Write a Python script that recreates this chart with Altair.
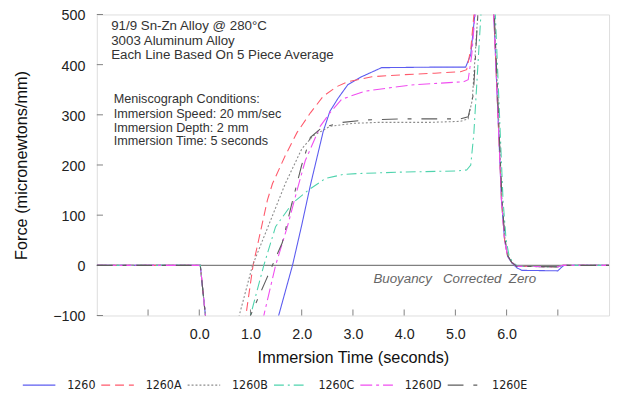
import altair as alt
import pandas as pd

FONT = "Liberation Sans, Arial, sans-serif"
NARROW = "DejaVu Sans Condensed, Liberation Sans Narrow, Liberation Sans, Arial, sans-serif"

SERIES = ["1260", "1260A", "1260B", "1260C", "1260D", "1260E"]
COLORS = ["#5c5cf0", "#ff5a6c", "#8c8c8c", "#4fd3ad", "#f04ef0", "#5e5e5e"]
DASHES = [[1, 0], [9, 5], [2, 2], [10, 4, 2, 4], [12, 4, 3, 4], [16, 10, 4, 10]]

# shared start: flat zero then sharp drop at immersion
LEAD_T = [-2.0, 0.0, 0.02, 0.12, 0.2]
LEAD_F = [0, 0, 0, -100, -200]

T_1260 = [1.4, 1.55, 1.82, 2.0, 2.17, 2.42, 2.55, 2.71, 2.9, 3.17, 3.56, 4.5, 5.2, 5.3, 5.4,
          5.55, 5.72, 5.75, 5.9, 5.96, 6.02, 6.1, 6.2, 6.3, 7.0, 7.06, 7.12, 8.0]
F_1260 = [-200, -100, 0, 80, 160, 267, 307, 333, 360, 376, 394, 395, 395, 420, 520,
          700, 520, 500, 130, 51, 18, 5, -5, -10, -11, -5, 0, 0]

T_1260A = [0.8, 0.91, 1.05, 1.16, 1.33, 1.43, 1.68, 1.91, 2.17, 2.42, 2.68, 2.9, 3.37, 4.0, 4.6,
           5.1, 5.22, 5.3, 5.38, 5.55, 5.72, 5.75, 5.9, 5.96, 6.02, 6.1, 6.2, 7.0, 7.1, 8.0]
F_1260A = [-200, -100, 0, 51, 130, 163, 219, 265, 304, 337, 356, 366, 376, 380, 383,
           386, 390, 430, 520, 700, 520, 500, 130, 51, 18, 6, -2, -3, 0, 0]

T_1260B = [0.65, 0.78, 1.04, 1.68, 2.0, 2.22, 2.55, 3.0, 3.5, 4.5, 5.1, 5.25, 5.33, 5.45,
           5.6, 5.73, 5.76, 5.91, 5.97, 6.03, 6.1, 6.2, 7.0, 7.1, 8.0]
F_1260B = [-200, -100, 0, 163, 232, 258, 277, 283, 285, 285, 287, 292, 330, 520,
           700, 520, 500, 130, 51, 18, 6, -2, -3, 0, 0]

T_1260C = [0.88, 1.0, 1.26, 1.49, 1.82, 2.13, 2.46, 2.8, 3.1, 4.0, 5.0, 5.22, 5.3, 5.36, 5.51,
           5.62, 5.75, 5.78, 5.93, 5.99, 6.05, 6.12, 6.22, 7.0, 7.1, 8.0]
F_1260C = [-200, -100, 0, 77, 124, 150, 173, 181, 183, 186, 188, 190, 200, 262, 520,
           700, 520, 500, 130, 51, 18, 6, -2, -3, 0, 0]

T_1260D = [1.12, 1.26, 1.49, 1.72, 1.91, 2.07, 2.17, 2.36, 2.55, 2.78, 3.23, 3.87, 4.2, 5.16,
           5.25, 5.32, 5.4, 5.55, 5.72, 5.75, 5.9, 5.96, 6.02, 6.1, 6.2, 7.0, 7.1, 8.0]
F_1260D = [-200, -100, 0, 77, 150, 209, 232, 277, 304, 331, 347, 356, 360, 366,
           370, 420, 520, 700, 520, 500, 130, 51, 18, 6, -2, -3, 0, 0]

T_1260E = [0.85, 1.0, 1.3, 1.62, 1.8, 2.0, 2.17, 2.4, 2.8, 3.3, 4.0, 5.1, 5.25, 5.35, 5.45,
           5.6, 5.73, 5.76, 5.91, 5.97, 6.03, 6.1, 6.2, 7.0, 7.1, 8.0]
F_1260E = [-200, -100, -30, 45, 120, 200, 255, 275, 285, 290, 292, 292, 296, 340, 520,
           700, 520, 500, 130, 51, 18, 6, -2, -3, 0, 0]

X_TICKS = [-1, 0, 1, 2, 3, 4, 5, 6, 7]
Y_TICKS = [-100, 0, 100, 200, 300, 400, 500]

NOTE_TEXT = ["91/9 Sn-Zn Alloy @ 280°C", "3003 Aluminum Alloy", "Each Line Based On 5 Piece Average"]
NOTE_X = [-1.72, -1.72, -1.72]
NOTE_Y = [476, 448, 419]

COND_TEXT = ["Meniscograph Conditions:", "Immersion Speed: 20 mm/sec",
             "Immersion Depth: 2 mm", "Immersion Time: 5 seconds"]
COND_X = [-1.67, -1.67, -1.67, -1.67]
COND_Y = [331, 302, 274, 247]

ZERO_TEXT = ["Buoyancy\u00a0\u00a0\u00a0Corrected\u00a0\u00a0Zero"]
ZERO_X = [3.40]
ZERO_Y = [-27]

series_t = [T_1260, T_1260A, T_1260B, T_1260C, T_1260D, T_1260E]
series_f = [F_1260, F_1260A, F_1260B, F_1260C, F_1260D, F_1260E]
rows = []
for name, ts, fs in zip(SERIES, series_t, series_f):
    for i, (t, f) in enumerate(zip(LEAD_T + ts, LEAD_F + fs)):
        rows.append({"series": name, "t": t, "f": f, "i": i})
df = pd.DataFrame(rows)

xscale = alt.Scale(domain=[-2, 8], nice=False, zero=False)
yscale = alt.Scale(domain=[-100, 500], nice=False, zero=False)

X_AXIS = alt.Axis(
    values=X_TICKS, ticks=False, domain=False, grid=False,
    labelExpr="datum.value >= 0 && datum.value <= 6 ? format(datum.value, '.1f') : ''",
    labelPadding=12, labelFontSize=14.5, labelFont=FONT, labelColor="#222",
    title="Immersion Time (seconds)", titleFont=FONT, titleFontSize=16.5,
    titleFontWeight="normal", titleColor="#111", titlePadding=9.5)
Y_AXIS = alt.Axis(
    values=Y_TICKS, format="d", ticks=False, domain=False, grid=False,
    labelPadding=12, labelFontSize=14.5, labelFont=FONT, labelColor="#222", labelOffset=1.5,
    title="Force (micronewtons/mm)", titleFont=FONT, titleFontSize=16.5,
    titleFontWeight="normal", titleColor="#111", titlePadding=23.5)


def X(field):
    return alt.X(field, scale=xscale, axis=X_AXIS, title="Immersion Time (seconds)")


def Y(field):
    return alt.Y(field, scale=yscale, axis=Y_AXIS, title="Force (micronewtons/mm)")


legend = alt.Legend(
    title=None, orient="none", legendX=-76, legendY=358, direction="horizontal", columns=6,
    symbolType="stroke", symbolSize=1089, symbolStrokeWidth=1.2, labelFont=NARROW,
    labelFontSize=12.5, labelColor="#222", labelOffset=11, columnPadding=2.5,
)

lines = alt.Chart(df).mark_line(clip=True, strokeWidth=1.1).encode(
    x=X("t:Q"), y=Y("f:Q"),
    color=alt.Color("series:N", scale=alt.Scale(domain=SERIES, range=COLORS), legend=legend),
    strokeDash=alt.StrokeDash("series:N", scale=alt.Scale(domain=SERIES, range=DASHES), legend=legend),
    order=alt.Order("i:Q"),
)

zero = alt.Chart(pd.DataFrame({"f": [0]})).mark_rule(color="#808080", strokeWidth=1.2).encode(
    y=Y("f:Q"))

xt = pd.DataFrame({"t": X_TICKS, "f": [-100] * len(X_TICKS), "f2": [-88] * len(X_TICKS)})
xticks = alt.Chart(xt).mark_rule(color="#808080").encode(x=X("t:Q"), y=Y("f:Q"), y2="f2:Q")

yt = pd.DataFrame({"f": Y_TICKS, "t": [-2] * len(Y_TICKS), "t2": [-1.88] * len(Y_TICKS)})
yticks = alt.Chart(yt).mark_rule(color="#808080").encode(y=Y("f:Q"), x=X("t:Q"), x2="t2:Q")

notes = alt.Chart(pd.DataFrame({"t": NOTE_X, "f": NOTE_Y, "txt": NOTE_TEXT})).mark_text(
    align="left", baseline="middle", font=FONT, fontSize=13.5, color="#333").encode(
    x=X("t:Q"), y=Y("f:Q"), text="txt:N")

cond = alt.Chart(pd.DataFrame({"t": COND_X, "f": COND_Y, "txt": COND_TEXT})).mark_text(
    align="left", baseline="middle", font=FONT, fontSize=12.8, color="#333").encode(
    x=X("t:Q"), y=Y("f:Q"), text="txt:N")

zlab = alt.Chart(pd.DataFrame({"t": ZERO_X, "f": ZERO_Y, "txt": ZERO_TEXT})).mark_text(
    align="left", baseline="middle", font=FONT, fontSize=13.5, fontStyle="italic", color="#666").encode(
    x=X("t:Q"), y=Y("f:Q"), text="txt:N")

chart = alt.layer(zero, xticks, yticks, lines, notes, cond, zlab).properties(
    width=519, height=305,
    padding={"left": 90, "top": 4, "right": 4, "bottom": 80},
    autosize=alt.AutoSizeParams(type="none"),
).configure_view(stroke="#888", strokeWidth=1.2).configure(background="white")

chart.save("out.html", embed_options={"renderer": "svg", "actions": False})
